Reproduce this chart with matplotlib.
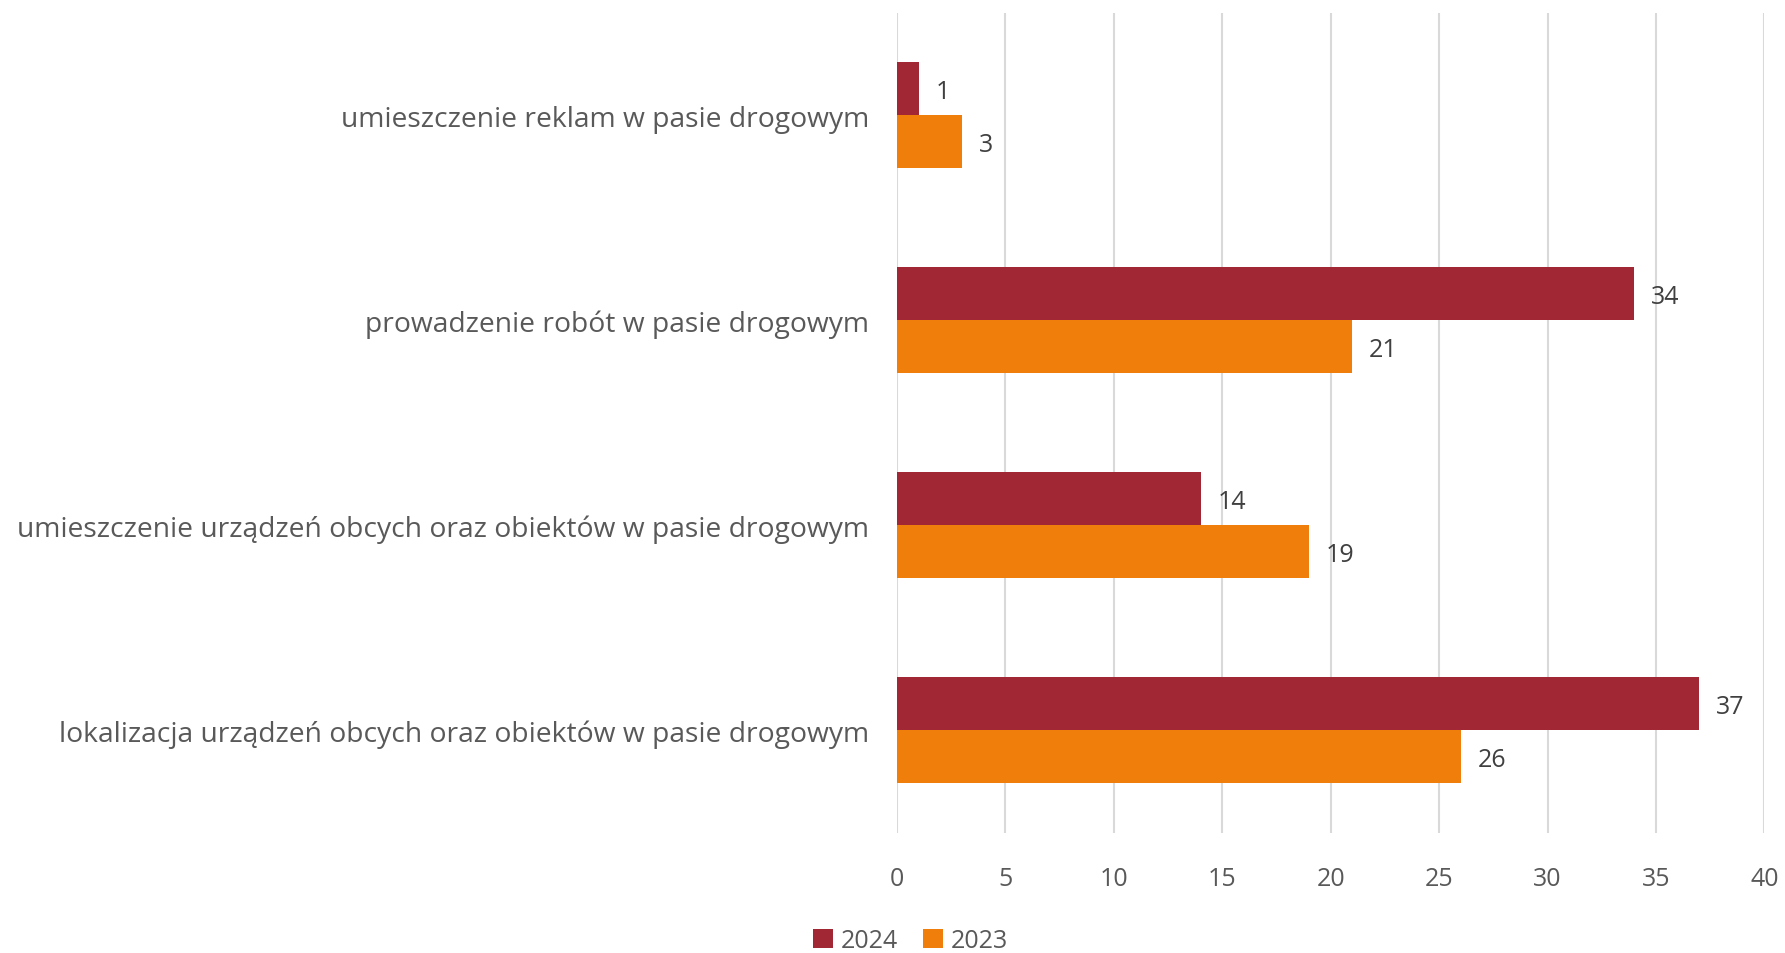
import matplotlib
matplotlib.use("Agg")
import matplotlib.pyplot as plt
import numpy as np

plt.rcParams['font.family'] = ['Open Sans', 'DejaVu Sans']

categories = [
    "lokalizacja urządzeń obcych oraz obiektów w pasie drogowym",
    "umieszczenie urządzeń obcych oraz obiektów w pasie drogowym",
    "prowadzenie robót w pasie drogowym",
    "umieszczenie reklam w pasie drogowym",
]
values_2024 = [37, 14, 34, 1]
values_2023 = [26, 19, 21, 3]
series_names = ["2024", "2023"]
colors = ["#A12735", "#EF7F0A"]
x_ticks = [0, 5, 10, 15, 20, 25, 30, 35, 40]

fig = plt.figure(figsize=(17.85, 9.54), dpi=100)
ax = fig.add_axes([0.5025, 0.126, 0.486, 0.8595])

y = np.arange(len(categories))
h = 0.259
b1 = ax.barh(y + h / 2, values_2024, height=h, color=colors[0], label=series_names[0], zorder=3)
b2 = ax.barh(y - h / 2, values_2023, height=h, color=colors[1], label=series_names[1], zorder=3)

for bars in (b1, b2):
    for rect in bars:
        w = rect.get_width()
        ax.annotate(f"{w:g}", (w, rect.get_y() + rect.get_height() / 2),
                    xytext=(12, -2), textcoords="offset points",
                    va="center", ha="left", fontsize=18, color="#404040")

ax.set_xlim(0, 40)
ax.set_ylim(-0.5, 3.5)
ax.set_xticks(x_ticks)
ax.set_yticks(y)
ax.set_yticklabels(categories)
ax.xaxis.grid(True, color="#D9D9D9", linewidth=1.5, zorder=0)
ax.set_axisbelow(True)
for s in ax.spines.values():
    s.set_visible(False)
ax.tick_params(axis="x", length=0, colors="#595959", labelsize=18, pad=24)
ax.tick_params(axis="y", length=0, colors="#595959", labelsize=20.3, pad=20)

fig.legend(handles=[b1, b2], labels=series_names, loc="center", bbox_to_anchor=(0.51, 0.013),
           ncol=2, frameon=False, fontsize=18, handlelength=0.8, handleheight=0.8,
           handletextpad=0.3, columnspacing=1.0, labelcolor="#595959")

fig.savefig("out.png", dpi=100)
